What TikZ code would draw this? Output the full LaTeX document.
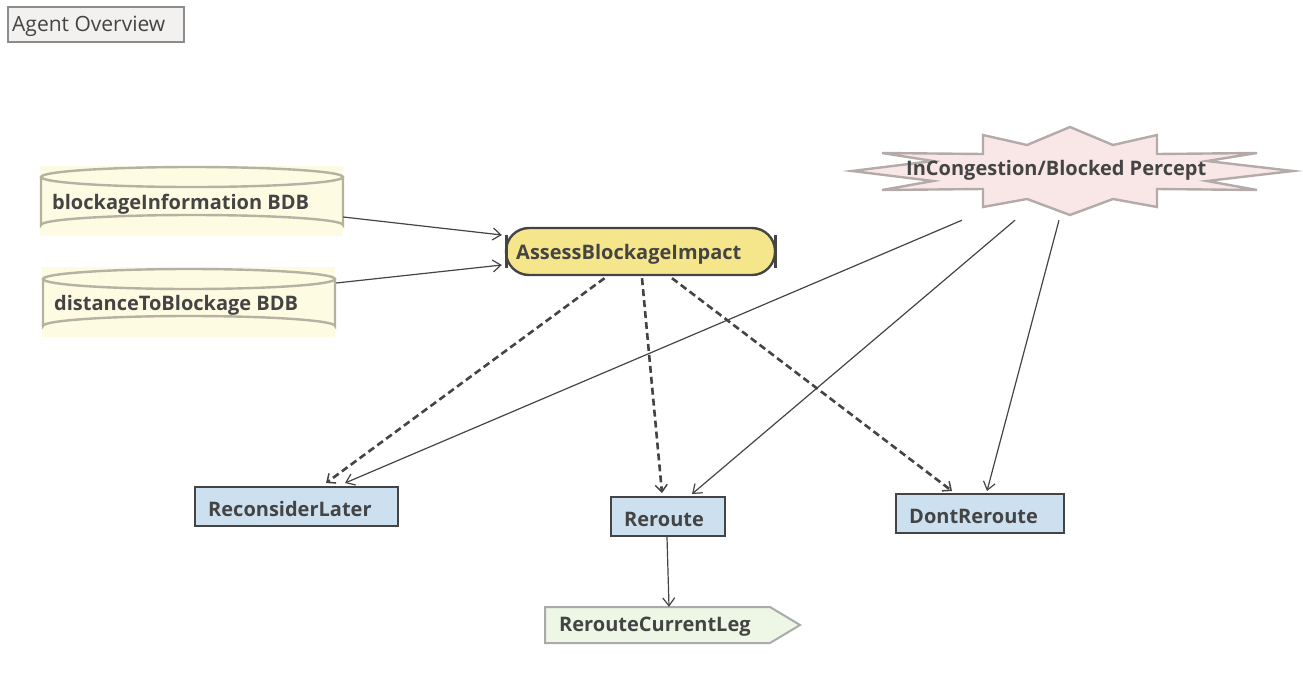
\documentclass[tikz,border=0pt]{standalone}
\usepackage{fontspec}
\setmainfont{Open Sans}
\usetikzlibrary{arrows.meta,calc}
\definecolor{txt}{HTML}{444444}
\definecolor{cylfill}{HTML}{FDFBE2}
\definecolor{cylline}{HTML}{B4B2A0}
\definecolor{goalfill}{HTML}{F5E68C}
\definecolor{planfill}{HTML}{CDE0F0}
\definecolor{burstfill}{HTML}{F9E7E7}
\definecolor{burstline}{HTML}{B4AAAA}
\definecolor{legfill}{HTML}{EEF6E6}
\definecolor{legline}{HTML}{AAAAAA}
\definecolor{ovfill}{HTML}{F2F1F0}
\begin{document}
\begin{tikzpicture}[x=1pt,y=-1pt,
  lbl/.style={font=\fontsize{20}{22}\selectfont\bfseries, text=txt, inner sep=0pt},
  box/.style={draw=txt, line width=2pt, fill=planfill, inner sep=0pt},
  ghost/.style={inner sep=0pt},
  conn/.style={draw=txt, line width=1.2pt, -{Straight Barb[length=8pt,width=12pt,line width=1.2pt]}},
  dconn/.style={draw=txt, line width=2.6pt, dash pattern=on 7pt off 4pt, -{Straight Barb[length=7pt,width=12pt,line width=1.5pt]}}]
\useasboundingbox (0,0) rectangle (1303,691);
% Agent overview
\node[draw=black!45, line width=1.2pt, fill=ovfill, minimum width=176pt, minimum height=35pt, inner sep=0pt] (ov) at (96,24.5) {};
\node[font=\fontsize{21}{23}\selectfont, text=txt, anchor=west, inner sep=0pt] (ovt) at (12,26) {Agent Overview};
% cylinder 1
\node[ghost, minimum width=303pt, minimum height=70pt] (cyl1) at (191.5,201) {};
\fill[cylfill] (cyl1.north west) rectangle (cyl1.south east);
\draw[cylline, line width=2.4pt] (41,177) -- (41,225) arc[start angle=180, end angle=360, x radius=151, y radius=10] -- (343,177);
\draw[cylline, line width=2.4pt] (192,177) ellipse[x radius=151, y radius=10];
\node[lbl, anchor=west] (cyl1t) at (52,204) {blockageInformation BDB};
% cylinder 2
\node[ghost, minimum width=293pt, minimum height=70pt] (cyl2) at (188.5,302) {};
\fill[cylfill] (cyl2.north west) rectangle (cyl2.south east);
\draw[cylline, line width=2.4pt] (43,279) -- (43,326) arc[start angle=180, end angle=360, x radius=146, y radius=10] -- (335,279);
\draw[cylline, line width=2.4pt] (189,279) ellipse[x radius=146, y radius=10];
\node[lbl, anchor=west] (cyl2t) at (54,305) {distanceToBlockage BDB};
% goal
\node[draw=txt, line width=2.4pt, fill=goalfill, rounded corners=23pt, minimum width=269pt, minimum height=47pt, inner sep=0pt] (assess) at (640.5,251.5) {};
\draw[txt, line width=3pt] (506,235) -- (506,268) (775,235) -- (775,268);
\node[lbl, anchor=west] (assesst) at (516,254) {AssessBlockageImpact};
% burst
\node[ghost, minimum width=442pt, minimum height=88pt] (burst) at (1070,171) {};
\draw[burstline, fill=burstfill, line width=2.4pt, line join=miter]
  (1070,127) -- (1113,145) -- (1157,135) -- (1157,154) -- (1257,153) -- (1207,161) -- (1293,171)
  -- (1207,181) -- (1257,190) -- (1157,189) -- (1157,207) -- (1113,199) -- (1070,215)
  -- (1027,199) -- (983,207) -- (983,189) -- (882,190) -- (933,181) -- (852,171)
  -- (933,161) -- (882,153) -- (983,154) -- (983,135) -- (1027,145) -- cycle;
\node[lbl, anchor=west] (burstt) at (906,170) {InCongestion/Blocked Percept};
% plans
\node[box, minimum width=203pt, minimum height=39pt] (recon) at (296.5,506.5) {};
\node[lbl, anchor=west] at (208,509) {ReconsiderLater};
\node[box, minimum width=114pt, minimum height=39pt] (reroute) at (668,516.5) {};
\node[lbl, anchor=west] at (624,519) {Reroute};
\node[box, minimum width=168pt, minimum height=39pt] (dont) at (980,513.5) {};
\node[lbl, anchor=west] at (909,516) {DontReroute};
% action
\node[ghost, minimum width=255pt, minimum height=36pt] (leg) at (672.5,625) {};
\draw[legline, fill=legfill, line width=2pt] (545,607) -- (770,607) -- (800,625) -- (770,643) -- (545,643) -- cycle;
\node[lbl, anchor=west] at (559,627) {RerouteCurrentLeg};
% connectors
\draw[conn] ([yshift=-16pt]cyl1.east) -- ([xshift=-3pt,yshift=16.5pt]assess.west);
\draw[conn] ([xshift=1pt,yshift=19pt]cyl2.east) -- ([xshift=-3pt,yshift=-13.5pt]assess.west);
\draw[dconn] ([xshift=-36pt,yshift=-2pt]assess.south) -- ([xshift=29.5pt,yshift=3pt]recon.north);
\draw[dconn] ([xshift=1.5pt,yshift=-2pt]assess.south) -- ([xshift=-6pt,yshift=3pt]reroute.north);
\draw[dconn] ([xshift=31.5pt,yshift=-2pt]assess.south) -- ([xshift=-28pt,yshift=2pt]dont.north);
\draw[conn] ([xshift=-108pt,yshift=-5pt]burst.south) -- ([xshift=48.5pt,yshift=3pt]recon.north);
\draw[conn] ([xshift=-55pt,yshift=-5pt]burst.south) -- ([xshift=24pt,yshift=2pt]reroute.north);
\draw[conn] ([xshift=-11pt,yshift=-5pt]burst.south) -- ([xshift=7pt,yshift=2pt]dont.north);
\draw[conn] ([xshift=-1pt]reroute.south) -- ([xshift=-3.5pt]leg.north);
\end{tikzpicture}
\end{document}
